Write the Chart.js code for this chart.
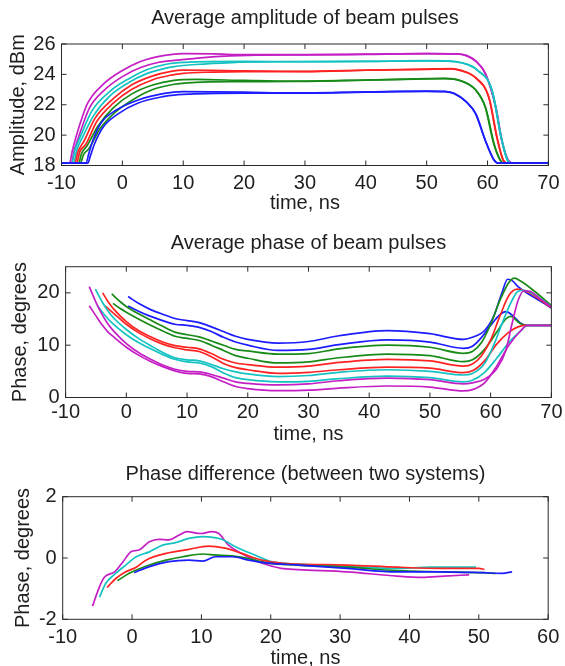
<!DOCTYPE html>
<html>
<head>
<meta charset="utf-8">
<script src="https://cdn.jsdelivr.net/npm/chart.js@4.4.0/dist/chart.umd.min.js"></script>
<style>
  body { margin: 0; background: #fff; }
  #wrap { position: relative; width: 565px; height: 666px; overflow: hidden; }
  canvas { position: absolute; left: 0; }
</style>
</head>
<body>
<div id="wrap">
  <canvas id="amp" width="565" height="215" style="top:0px"></canvas>
  <canvas id="phase" width="565" height="230" style="top:220px"></canvas>
  <canvas id="diff" width="565" height="236" style="top:435px"></canvas>
</div>
<script>
// amplitude, dBm  [time ns, value]
const ampMagenta1 = [[-10,18.15],[-8.7,18.15],[-8.2,19.0],[-7.3,20.3],[-5.7,22.1],[-3,23.4],[0,24.25],[3,24.85],[7,25.25],[10,25.36],[15,25.35],[20,25.3],[30,25.3],[40,25.33],[50,25.37],[55,25.35],[56.5,25.25],[58,24.9],[59.6,24.1],[61.3,21.9],[62.3,19.7],[63.3,18.4],[64.2,18.15],[70,18.15]];
const ampMagenta2 = [[-10,18.15],[-8.4,18.15],[-7.9,19.0],[-7.0,20.1],[-5.4,21.8],[-3,22.95],[0,23.85],[3,24.45],[6,24.8],[8.5,24.92],[12,25.05],[16,25.18],[22,25.27],[30,25.28],[40,25.32],[50,25.36],[55,25.34],[56.6,25.22],[58.1,24.85],[59.7,24.0],[61.4,21.8],[62.4,19.6],[63.4,18.35],[64.3,18.15],[70,18.15]];
const ampCyan1 = [[-10,18.15],[-8.3,18.15],[-7.8,19.0],[-6.8,20.0],[-5,21.6],[-2,22.9],[1,23.7],[4,24.3],[7,24.65],[8.5,24.74],[12,24.82],[20,24.85],[30,24.84],[40,24.86],[50,24.9],[54,24.88],[56,24.75],[58.3,24.3],[60.7,22.97],[62.1,20.1],[63.1,18.5],[63.8,18.15],[70,18.15]];
const ampCyan2 = [[-10,18.15],[-8.0,18.15],[-7.5,19.0],[-6.5,19.9],[-4.7,21.3],[-2,22.6],[1,23.45],[4,24.05],[7,24.4],[8.5,24.51],[12,24.65],[18,24.78],[25,24.83],[40,24.85],[50,24.88],[54,24.86],[56.1,24.72],[58.4,24.25],[60.8,22.9],[62.2,20.0],[63.2,18.45],[63.9,18.15],[70,18.15]];
const ampRed1 = [[-10,18.15],[-7.8,18.15],[-7.3,18.9],[-6.3,19.6],[-4.5,21.1],[-1.5,22.4],[1.5,23.3],[5,23.9],[8,24.2],[10,24.28],[20,24.24],[30,24.2],[40,24.28],[50,24.35],[54,24.38],[55.5,24.28],[58,23.8],[60.2,22.5],[61.5,19.9],[62.5,18.4],[63.2,18.15],[70,18.15]];
const ampRed2 = [[-10,18.15],[-7.5,18.15],[-7.0,18.9],[-6,19.4],[-4.2,20.9],[-1.5,22.1],[1.5,23.0],[5,23.65],[8,23.95],[10,24.07],[15,24.15],[20,24.18],[30,24.18],[40,24.27],[50,24.33],[54,24.36],[55.6,24.25],[58.1,23.75],[60.3,22.4],[61.6,19.8],[62.6,18.35],[63.3,18.15],[70,18.15]];
const ampGreen1 = [[-10,18.15],[-7.2,18.15],[-6.7,18.8],[-5.8,19.3],[-4,20.6],[-1.5,21.8],[1.5,22.7],[5,23.3],[8.5,23.6],[12,23.67],[20,23.6],[28,23.55],[40,23.63],[50,23.72],[53,23.74],[55.5,23.6],[58,23.0],[59.6,21.87],[61,19.46],[62,18.4],[62.6,18.15],[70,18.15]];
const ampGreen2 = [[-10,18.15],[-6.9,18.15],[-6.4,18.7],[-5.5,19.1],[-3.7,20.4],[-1.2,21.5],[2,22.4],[5,23.0],[8.5,23.35],[12,23.47],[18,23.52],[28,23.53],[40,23.62],[50,23.7],[53,23.72],[55.6,23.57],[58.1,22.95],[59.7,21.8],[61.1,19.4],[62.1,18.35],[62.7,18.15],[70,18.15]];
const ampBlue1 = [[-10,18.15],[-6.0,18.15],[-5.5,18.8],[-4.9,19.6],[-3.5,20.8],[-1,21.65],[2.5,22.3],[6.9,22.75],[10,22.86],[20,22.83],[28,22.78],[40,22.85],[50,22.9],[53,22.88],[54.5,22.75],[56.5,22.2],[58,21.44],[59.6,19.68],[61,18.4],[61.8,18.15],[70,18.15]];
const ampBlue2 = [[-10,18.15],[-5.7,18.15],[-5.2,18.7],[-4.6,19.4],[-3.2,20.5],[-0.7,21.4],[2.5,22.1],[6.9,22.55],[8.5,22.64],[12,22.72],[20,22.76],[28,22.76],[40,22.83],[50,22.88],[53,22.86],[54.6,22.72],[56.6,22.15],[58.1,21.4],[59.7,19.6],[61.1,18.35],[61.9,18.15],[70,18.15]];

// phase, degrees
const phMagenta1 = [[-6.1,21.2],[-5,18.2],[-4,15.9],[-3,14.0],[-2,12.6],[0,10.3],[2,8.6],[4,7.3],[6,6.2],[8,5.4],[10,5.0],[12,4.9],[14,4.4],[16,3.7],[18,3.0],[20,2.7],[25,2.4],[30,2.6],[35,3.2],[43,3.7],[50,3.4],[55.5,2.6],[57,2.8],[59,3.5],[61,5.5],[62.5,9],[63.5,14],[64.5,18.5],[65.5,20.4],[66.5,20.3],[68,19],[70,17.3]];
const phMagenta2 = [[-6.1,17.55],[-5,15.6],[-4,13.9],[-3,12.5],[-2,11.5],[0,9.6],[2,8.1],[4,6.9],[6,5.9],[8,5.1],[10,4.6],[12,4.5],[14,4.0],[16,3.0],[18,2.1],[20,1.7],[25,1.3],[30,1.4],[35,1.8],[43,2.2],[50,2.0],[55.5,1.25],[57,1.5],[59,2.8],[61,6],[63,10],[65,12.8],[66,13.8],[70,13.8]];
const phCyan1 = [[-5.1,20.7],[-4,18.3],[-3,16.5],[-2,15.1],[0,13.0],[2,11.3],[4,9.9],[6,8.6],[8,7.6],[10,7.2],[12,7.0],[14,6.3],[16,5.5],[18,4.9],[20,4.5],[25,4.0],[30,4.2],[35,4.8],[43,5.3],[50,5.0],[55.5,4.3],[57,4.6],[59,6.5],[60.5,10],[62,14.5],[63.5,18.5],[64.5,20.3],[65.5,20.5],[67,19.8],[70,17.4]];
const phCyan2 = [[-4.8,17.6],[-4,16.4],[-3,15.0],[-2,13.9],[0,12.0],[2,10.5],[4,9.3],[6,8.2],[8,7.3],[10,6.8],[12,6.6],[14,5.9],[16,4.7],[18,3.8],[20,3.4],[25,3.0],[30,3.1],[35,3.6],[43,4.1],[50,3.8],[55.5,3.0],[57,3.3],[59,4.8],[61,7.5],[63,10.5],[65,12.8],[66,13.8],[70,13.8]];
const phRed1 = [[-3.9,20.0],[-3,18.3],[-2,16.8],[0,14.5],[2,12.8],[4,11.6],[6,10.6],[8,9.9],[10,9.6],[12,9.3],[14,8.4],[16,7.3],[18,6.6],[20,6.3],[25,5.8],[30,6.0],[35,6.7],[43,7.3],[50,7.0],[55.5,6.0],[57,6.4],[58.5,8],[60,11],[61.5,15.5],[63,19.5],[64.4,20.7],[66,20.2],[70,17.2]];
const phRed2 = [[-3.5,17.5],[-2,16.0],[0,14.0],[2,12.4],[4,11.2],[6,10.2],[8,9.5],[10,9.1],[12,8.8],[14,7.8],[16,6.5],[18,5.7],[20,5.3],[25,4.6],[30,4.8],[35,5.3],[43,5.8],[50,5.6],[55.5,4.75],[57,5.1],[59,7],[61,10.2],[63,12.5],[64.5,13.5],[65.5,13.8],[70,13.8]];
const phGreen1 = [[-2.4,19.8],[-1,18.3],[0,17.4],[2,16.0],[4,14.8],[6,13.6],[8,12.5],[10,12.0],[12,11.6],[14,10.8],[16,10.0],[18,9.2],[20,8.9],[25,8.3],[30,8.4],[35,9.3],[43,10.0],[50,9.6],[55.5,8.45],[57,8.8],[58.5,10.5],[60,14],[61.5,18.5],[63,22],[63.9,22.8],[65,22.2],[67,20.5],[70,17.6]];
const phGreen2 = [[-2.2,18.0],[-1,17.0],[0,16.3],[2,15.0],[4,13.8],[6,12.7],[8,11.7],[10,11.3],[12,10.9],[14,10.0],[16,9.0],[18,8.0],[20,7.5],[25,6.6],[30,6.8],[35,7.6],[43,8.3],[50,8.0],[55.5,6.85],[57,7.2],[59,9.2],[61,12.5],[62.5,15],[63.3,15.5],[64.8,14.2],[65.8,13.8],[70,13.8]];
const phBlue1 = [[0.3,19.3],[2,18.0],[4,16.8],[6,15.9],[8,15.1],[10,14.7],[12,14.3],[14,13.5],[16,12.6],[18,11.7],[20,11.1],[25,10.4],[30,10.7],[35,11.8],[43,12.8],[50,12.2],[55.5,11.1],[57,11.5],[59,12.8],[60.5,15.5],[61.8,19.8],[62.8,22.6],[63.6,22.3],[64.5,21.2],[66.5,19.6],[68.5,18.2],[70,17.1]];
const phBlue2 = [[0.3,17.5],[2,16.5],[4,15.5],[6,14.7],[8,14.0],[10,13.8],[12,13.4],[14,12.6],[16,11.5],[18,10.6],[20,10.0],[25,9.0],[30,9.2],[35,10.1],[43,11.0],[50,10.6],[55.5,9.4],[57,9.8],[58.5,11.5],[60,13.8],[61.5,15.8],[62.5,16.4],[63.5,15.8],[64.8,14.3],[65.8,13.8],[70,13.8]];

// phase difference, degrees
const dfMagenta = [[-5.7,-1.57],[-4.7,-0.94],[-4.0,-0.63],[-2.5,-0.45],[-1.3,-0.12],[-0.1,0.21],[1.0,0.26],[2.5,0.53],[3.9,0.61],[5.3,0.59],[6.8,0.75],[7.9,0.86],[9.9,0.8],[11.5,0.86],[12.5,0.8],[13.9,0.42],[15.8,0.15],[17.7,-0.07],[19.6,-0.23],[21.5,-0.34],[23.9,-0.38],[31,-0.45],[38.2,-0.59],[41.8,-0.63],[45,-0.59],[48.6,-0.55]];
const dfCyan = [[-4.7,-1.28],[-3.8,-0.83],[-2.6,-0.55],[-0.9,-0.23],[0.6,0.04],[2.5,0.2],[4.4,0.42],[6.3,0.5],[8.2,0.64],[10.2,0.7],[12.9,0.61],[14.9,0.37],[17.7,0.1],[20.1,-0.12],[23.9,-0.2],[31,-0.28],[38.2,-0.34],[43,-0.3],[49.6,-0.3]];
const dfRed = [[-3.6,-0.96],[-2.3,-0.66],[-0.9,-0.45],[0.6,-0.3],[2.0,-0.07],[4.9,0.15],[8.2,0.28],[11,0.39],[13.4,0.32],[15.8,0.15],[18.7,-0.07],[21.5,-0.17],[23.9,-0.2],[31,-0.23],[38.2,-0.3],[45,-0.34],[50,-0.34],[50.8,-0.37]];
const dfGreen = [[-2.1,-0.74],[-0.4,-0.5],[2.5,-0.23],[4.9,-0.07],[7.3,0.04],[10.2,0.13],[12,0.1],[14.4,0.07],[16.8,-0.02],[19.6,-0.17],[23.9,-0.23],[31,-0.3],[38.2,-0.41],[45,-0.45],[50.6,-0.48],[52.4,-0.5]];
const dfBlue = [[0.3,-0.48],[2.5,-0.28],[5.3,-0.12],[8.2,-0.07],[10.2,-0.1],[12,0.04],[14.5,0.04],[16.8,-0.07],[19.6,-0.17],[23.9,-0.23],[31,-0.34],[38.2,-0.45],[43.9,-0.45],[50.6,-0.48],[53.4,-0.5],[54.8,-0.45]];

const BLUE = "#1c1cff", GREEN = "#178a17", RED = "#ff2222", CYAN = "#14c2c2", MAGENTA = "#c41fc4";
const ink = "#1e1e1e";
const family = "'Liberation Sans', Arial, sans-serif";
const FS = 20; // font size, line height is 1.2 of it

// box round the plot and inward ticks on all four sides, like matlab
const frame = {
  id: "frame",
  afterDatasetsDraw(chart) {
    const { ctx, chartArea: a, scales } = chart;
    ctx.save();
    ctx.strokeStyle = "#2a2a2a";
    ctx.lineWidth = 1;
    ctx.strokeRect(a.left, a.top, a.right - a.left, a.bottom - a.top);
    ctx.beginPath();
    scales.x.ticks.forEach(t => {
      const px = scales.x.getPixelForValue(t.value);
      ctx.moveTo(px, a.bottom); ctx.lineTo(px, a.bottom - 5);
      ctx.moveTo(px, a.top); ctx.lineTo(px, a.top + 5);
    });
    scales.y.ticks.forEach(t => {
      const py = scales.y.getPixelForValue(t.value);
      ctx.moveTo(a.left, py); ctx.lineTo(a.left + 5, py);
      ctx.moveTo(a.right, py); ctx.lineTo(a.right - 5, py);
    });
    ctx.stroke();
    ctx.restore();
  }
};

function buildChart(id, p) {
  const H = document.getElementById(id).height;
  const font = { family, size: FS };
  new Chart(document.getElementById(id), {
    type: "line",
    data: {
      datasets: p.series.map(([data, color]) => ({
        data: data.map(([x, y]) => ({ x, y })),
        borderColor: color,
        borderWidth: 1.7,
        pointRadius: 0,
        cubicInterpolationMode: "monotone",
        fill: false
      }))
    },
    options: {
      responsive: false,
      animation: false,
      events: [],
      layout: { padding: { left: 0, right: 565 - p.area.right, top: 0, bottom: 0 } },
      plugins: {
        legend: { display: false },
        tooltip: { enabled: false },
        title: {
          display: true, text: p.title, color: ink, fullSize: false, // centred over the plot box
          font: { family, size: FS, weight: "normal" },
          padding: { top: p.titleTop, bottom: p.area.top - p.titleTop - FS * 1.2 }
        }
      },
      scales: {
        x: {
          type: "linear", min: p.xMin, max: p.xMax,
          afterFit: s => { s.height = H - p.area.bottom; },
          grid: { display: false, drawTicks: false }, border: { display: false },
          ticks: { stepSize: 10, color: ink, font, padding: p.xPad, maxRotation: 0, autoSkip: false, includeBounds: false },
          title: { display: true, text: "time, ns", color: ink, font, padding: { top: 0, bottom: p.xTitlePad } }
        },
        y: {
          type: "linear", min: p.yMin, max: p.yMax,
          afterFit: s => { s.width = p.area.left; },
          grid: { display: false, drawTicks: false }, border: { display: false },
          ticks: { stepSize: p.yStep, color: ink, font, padding: 6, includeBounds: false },
          title: { display: true, text: p.yTitle, color: ink, font, padding: { top: p.yTitlePad, bottom: 0 } }
        }
      }
    },
    plugins: [frame]
  });
}

buildChart("amp", {
  title: "Average amplitude of beam pulses", yTitle: "Amplitude, dBm",
  xMin: -10, xMax: 70, yMin: 18, yMax: 26, yStep: 2,
  area: { left: 61.5, right: 549.5, top: 44, bottom: 165.5 },
  titleTop: 6, xPad: 5.5, xTitlePad: 0, yTitlePad: 6.5,
  series: [[ampBlue1, BLUE], [ampBlue2, BLUE], [ampGreen1, GREEN], [ampGreen2, GREEN], [ampRed1, RED], [ampRed2, RED],
           [ampCyan1, CYAN], [ampCyan2, CYAN], [ampMagenta1, MAGENTA], [ampMagenta2, MAGENTA]]
});

buildChart("phase", {
  title: "Average phase of beam pulses", yTitle: "Phase, degrees",
  xMin: -10, xMax: 70, yMin: 0, yMax: 25, yStep: 10,
  area: { left: 65.6, right: 554.4, top: 46.7, bottom: 177.5 },
  titleTop: 11, xPad: 2.5, xTitlePad: 4, yTitlePad: 8.5,
  series: [[phMagenta1, MAGENTA], [phMagenta2, MAGENTA], [phCyan1, CYAN], [phCyan2, CYAN], [phRed1, RED], [phRed2, RED],
           [phGreen1, GREEN], [phGreen2, GREEN], [phBlue1, BLUE], [phBlue2, BLUE]]
});

buildChart("diff", {
  title: "Phase difference (between two systems)", yTitle: "Phase, degrees",
  xMin: -10, xMax: 60, yMin: -2, yMax: 2, yStep: 2,
  area: { left: 62.7, right: 552.7, top: 61.7, bottom: 184.3 },
  titleTop: 27, xPad: 5.7, xTitlePad: 1, yTitlePad: 11,
  series: [[dfBlue, BLUE], [dfGreen, GREEN], [dfRed, RED], [dfCyan, CYAN], [dfMagenta, MAGENTA]]
});
</script>
</body>
</html>
